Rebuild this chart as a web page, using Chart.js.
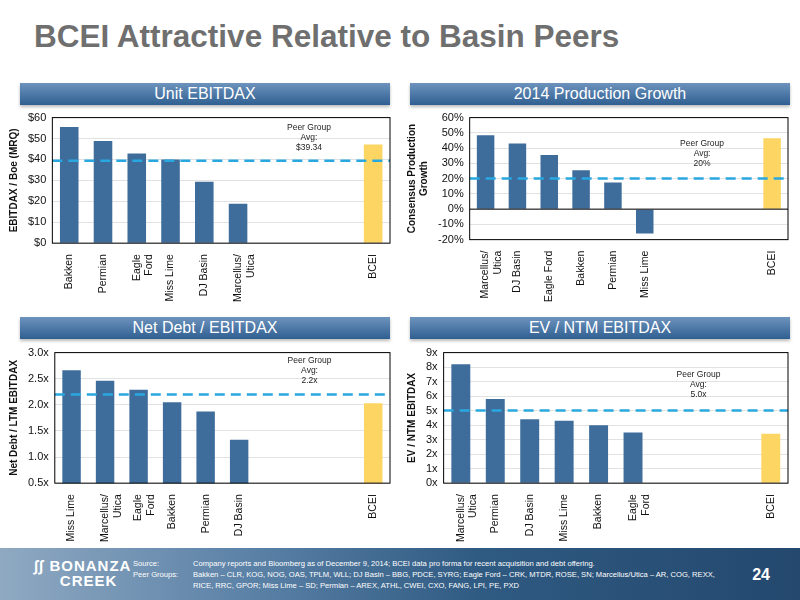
<!DOCTYPE html>
<html>
<head>
<meta charset="utf-8">
<script src="https://cdn.jsdelivr.net/npm/chart.js@4"></script>
<style>
  body { margin: 0; width: 800px; height: 600px; position: relative; background: #fff; font-family: "Liberation Sans", Arial, sans-serif; overflow: hidden; }
  h1 { position: absolute; left: 34px; top: 18px; margin: 0; font-size: 31.5px; color: #6f6f6f; font-weight: bold; }
  .band { position: absolute; height: 22px; color: #fff; font-size: 16px; text-align: center; line-height: 22px;
          background: linear-gradient(#6d93bd, #2f5f91); box-shadow: 0 2px 3px #bbb; }
  .box { position: absolute; }
  .footer { position: absolute; left: 0; top: 548px; width: 800px; height: 52px;
            background: linear-gradient(90deg, #8fa9c2 0%, #5d83a8 30%, #2f5a82 60%, #24486e 100%); color: #fff; }
  .logo { position: absolute; left: 34px; top: 10px; font-weight: bold; font-size: 15px; line-height: 15px; letter-spacing: 1px; }
  .src { position: absolute; left: 133px; top: 10px; font-size: 7.6px; line-height: 11px; width: 620px; }
  .src span { display: inline-block; width: 60px; vertical-align: top; }
  .pg { position: absolute; right: 30px; top: 18px; font-size: 16px; font-weight: bold; }
</style>
</head>
<body>
<h1>BCEI Attractive Relative to Basin Peers</h1>
<div class="band" style="left:20px;top:83px;width:370px">Unit EBITDAX</div>
<div class="band" style="left:410px;top:83px;width:380px">2014 Production Growth</div>
<div class="band" style="left:20px;top:317px;width:370px">Net Debt / EBITDAX</div>
<div class="band" style="left:410px;top:317px;width:380px">EV / NTM EBITDAX</div>

<div class="box" style="left:6px;top:105px;width:390px;height:200px"><canvas id="c1"></canvas></div>
<div class="box" style="left:404px;top:105px;width:390px;height:200px"><canvas id="c2"></canvas></div>
<div class="box" style="left:6px;top:340px;width:390px;height:205px"><canvas id="c3"></canvas></div>
<div class="box" style="left:404px;top:340px;width:390px;height:205px"><canvas id="c4"></canvas></div>

<div class="footer">
  <div class="logo">&#x222B;&#x222B; BONANZA<br>&nbsp;&nbsp;&nbsp;&nbsp;&nbsp;CREEK</div>
  <div class="src"><span>Source:</span>Company reports and Bloomberg as of December 9, 2014; BCEI data pro forma for recent acquisition and debt offering.<br>
  <span>Peer Groups:</span>Bakken – CLR, KOG, NOG, OAS, TPLM, WLL; DJ Basin – BBG, PDCE, SYRG; Eagle Ford – CRK, MTDR, ROSE, SN; Marcellus/Utica – AR, COG, REXX,<br>
  <span></span>RICE, RRC, GPOR; Miss Lime – SD; Permian – AREX, ATHL, CWEI, CXO, FANG, LPI, PE, PXD</div>
  <div class="pg">24</div>
</div>

<script>
// dati (slot vuoti = spazio prima di BCEI)
const ebitdaxLabels = ['Bakken', 'Permian', ['Eagle', 'Ford'], 'Miss Lime', 'DJ Basin', ['Marcellus/', 'Utica'], '', '', '', 'BCEI'];
const ebitdaxValues = [55.5, 48.8, 42.8, 40.0, 29.3, 18.8, null, null, null, 47.2];
const ebitdaxAvg = 39.34;

const growthLabels = [['Marcellus/', 'Utica'], 'DJ Basin', 'Eagle Ford', 'Bakken', 'Permian', 'Miss Lime', '', '', '', 'BCEI'];
const growthValues = [48.5, 43.0, 35.5, 25.5, 17.5, -16.0, null, null, null, 46.5];
const growthAvg = 20;

const debtLabels = ['Miss Lime', ['Marcellus/', 'Utica'], ['Eagle', 'Ford'], 'Bakken', 'Permian', 'DJ Basin', '', '', '', 'BCEI'];
const debtValues = [2.66, 2.46, 2.29, 2.05, 1.87, 1.33, null, null, null, 2.03];
const debtAvg = 2.2;

const evLabels = [['Marcellus/', 'Utica'], 'Permian', 'DJ Basin', 'Miss Lime', 'Bakken', ['Eagle', 'Ford'], '', '', '', 'BCEI'];
const evValues = [8.2, 5.8, 4.4, 4.3, 4.0, 3.5, null, null, null, 3.4];
const evAvg = 5.0;

const BLUE = '#3e6d9c';
const GOLD = '#fdd562';
const FONT = '"Liberation Sans", Arial, sans-serif';

// linea media tratteggiata + riquadro + nota "Peer Group"
const peerPlugin = {
    id: 'peer',
    afterDatasetsDraw(chart, args, opts) {
        const ctx = chart.ctx;
        const a = chart.chartArea;
        const y = chart.scales.y.getPixelForValue(opts.avg);
        ctx.save();
        ctx.strokeStyle = '#29a8e0';
        ctx.lineWidth = 2.5;
        ctx.setLineDash([10, 6]);
        ctx.beginPath();
        ctx.moveTo(a.left, y);
        ctx.lineTo(a.right, y);
        ctx.stroke();
        ctx.setLineDash([]);
        if (opts.zero) {
            const y0 = chart.scales.y.getPixelForValue(0);
            ctx.strokeStyle = '#000';
            ctx.lineWidth = 1;
            ctx.beginPath();
            ctx.moveTo(a.left, y0);
            ctx.lineTo(a.right, y0);
            ctx.stroke();
        }
        ctx.strokeStyle = '#000';
        ctx.lineWidth = 1;
        ctx.strokeRect(a.left, a.top, a.right - a.left, a.bottom - a.top);
        ctx.fillStyle = '#222';
        ctx.font = '8.5px ' + FONT;
        ctx.textAlign = 'center';
        const x = chart.scales.x.getPixelForValue(opts.noteX);
        const lines = ['Peer Group', 'Avg:', opts.note];
        lines.forEach((t, i) => ctx.fillText(t, x, a.top + opts.noteY + i * 10));
        ctx.restore();
    }
};

function createBarChart(id, labels, values, yOpts, title, peer) {
    const ctx = document.getElementById(id).getContext('2d');
    yOpts.ticks = Object.assign({ color: '#111', font: { size: 11, family: FONT }, padding: 6, autoSkip: false }, yOpts.ticks);
    return new Chart(ctx, {
        type: 'bar',
        data: {
            labels: labels,
            datasets: [{
                data: values,
                backgroundColor: values.map((v, i) => i === values.length - 1 ? GOLD : BLUE),
                categoryPercentage: 1,
                barPercentage: 0.55
            }]
        },
        options: {
            responsive: true,
            maintainAspectRatio: false,
            animation: false,
            layout: { padding: { top: 2, right: 6 } },
            plugins: { legend: { display: false }, tooltip: { enabled: false }, peer: peer },
            scales: {
                x: {
                    grid: { display: false },
                    border: { display: false },
                    ticks: { color: '#111', font: { size: 10.5, family: FONT }, maxRotation: 90, minRotation: 90, autoSkip: false }
                },
                y: Object.assign({
                    grid: { color: '#e2e2e2', drawTicks: false },
                    border: { display: false },
                    title: { display: true, text: title, color: '#111', font: { size: 10, weight: 'bold', family: FONT }, padding: 2 }
                }, yOpts)
            }
        },
        plugins: [peerPlugin]
    });
}

createBarChart('c1', ebitdaxLabels, ebitdaxValues,
    { min: 0, max: 60, ticks: { stepSize: 10, callback: v => '$' + v } },
    'EBITDAX / Boe (MRQ)',
    { avg: ebitdaxAvg, note: '$39.34', noteX: 7.1, noteY: 12 });

createBarChart('c2', growthLabels, growthValues,
    { min: -20, max: 60, ticks: { stepSize: 10, callback: v => v + '%' } },
    ['Consensus Production', 'Growth'],
    { avg: growthAvg, note: '20%', noteX: 6.8, noteY: 28, zero: true });

createBarChart('c3', debtLabels, debtValues,
    { min: 0.5, max: 3.0, ticks: { stepSize: 0.5, callback: v => v.toFixed(1) + 'x' } },
    'Net Debt / LTM EBITDAX',
    { avg: debtAvg, note: '2.2x', noteX: 7.1, noteY: 10 });

createBarChart('c4', evLabels, evValues,
    { min: 0, max: 9, ticks: { stepSize: 1, callback: v => v + 'x' } },
    'EV / NTM EBITDAX',
    { avg: evAvg, note: '5.0x', noteX: 6.9, noteY: 24 });
</script>
</body>
</html>
